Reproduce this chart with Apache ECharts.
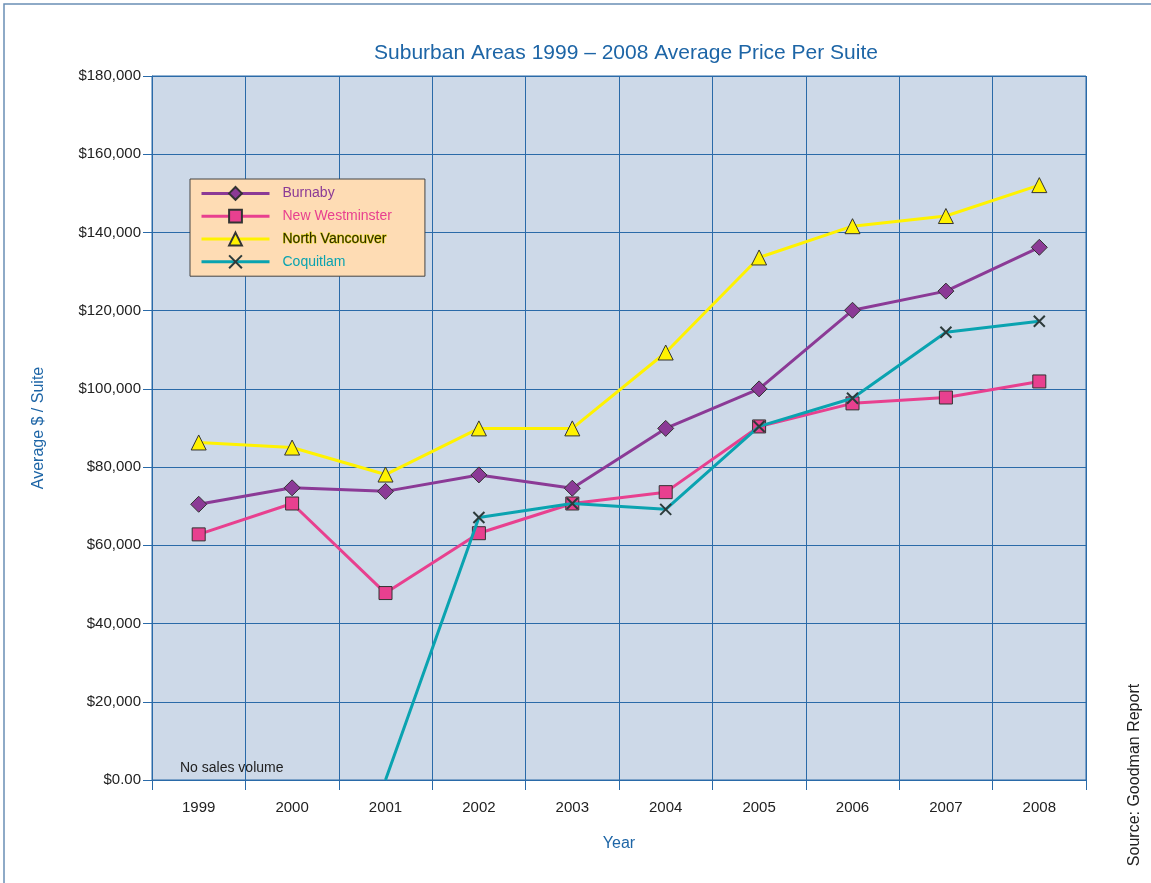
<!DOCTYPE html>
<html>
	<head>
		<meta charset="utf-8">
		<title>Suburban Areas Average Price Per Suite</title>
		<script type="text/javascript" src="https://cdn.jsdelivr.net/npm/echarts@6/dist/echarts.min.js"></script>
		<style>
			html, body { margin: 0; padding: 0; background: #fff; }
			#chart { width: 1151px; height: 883px; }
		</style>
	</head>
	<body>
		<div id="chart"></div>
		<script type="text/javascript">
			// 年份（x轴）
			var years = ['1999', '2000', '2001', '2002', '2003', '2004', '2005', '2006', '2007', '2008'];
			// 各区平均单价
			var burnaby = [70500, 74700, 73800, 78000, 74600, 89900, 100000, 120100, 125000, 136200];
			var newWestminster = [62800, 70700, 47800, 63100, 70700, 73600, 90400, 96300, 97800, 101900];
			var northVancouver = [86300, 85000, 78100, 89900, 89900, 109300, 133600, 141600, 144200, 152100];
			// 1999、2000 无数据，2001 无成交量（0）
			var coquitlam = [null, null, 0, 67100, 70700, 69200, 90400, 97600, 114500, 117300];

			var font = "'Liberation Sans', Arial, sans-serif";
			var blue = '#1d65a6';

			function moneyLabel(value) {
				if (value == 0) {
					return '$0.00';
				}
				return '$' + value.toLocaleString('en-US');
			}

			// 2001 年的 0 点不画标记
			var coqData = [];
			for (var i = 0; i < coquitlam.length; i++) {
				if (coquitlam[i] === 0) {
					coqData.push({ value: 0, symbol: 'none' });
				} else {
					coqData.push(coquitlam[i]);
				}
			}

			var myChart = echarts.init(document.getElementById('chart'));
			var option = {
				animation: false,
				textStyle: { fontFamily: font },
				title: {
					text: 'Suburban Areas 1999 \u2013 2008 Average Price Per Suite',
					left: 621,
					textAlign: 'center',
					top: 38,
					textStyle: {
						color: blue,
						fontSize: 21,
						fontWeight: 'normal',
						fontFamily: "'Liberation Sans Narrow', 'Liberation Sans', sans-serif"
					}
				},
				grid: {
					left: 152,
					right: 65,
					top: 76,
					bottom: 103,
					show: true,
					backgroundColor: '#cdd9e8',
					borderColor: '#2a6aa8',
					borderWidth: 1
				},
				legend: {
					orient: 'vertical',
					left: 190,
					top: 179,
					backgroundColor: '#fedcb4',
					borderColor: '#444',
					borderWidth: 1,
					padding: [7, 33, 7, 10],
					itemWidth: 68,
					itemHeight: 16,
					itemGap: 8,
					lineStyle: { width: 3 },
					textStyle: { fontSize: 14, padding: [0, 0, 0, 8] },
					data: [
						{ name: 'Burnaby', textStyle: { color: '#8b3a96' } },
						{ name: 'New Westminster', textStyle: { color: '#e8408f' } },
						{ name: 'North Vancouver', textStyle: { color: '#2b2b00', textBorderColor: '#d8d000', textBorderWidth: 0.8 } },
						{ name: 'Coquitlam', textStyle: { color: '#0aa3b0' } }
					]
				},
				xAxis: {
					type: 'category',
					data: years,
					boundaryGap: true,
					name: 'Year',
					nameLocation: 'middle',
					nameGap: 56,
					nameTextStyle: { color: blue, fontSize: 16 },
					axisLine: { lineStyle: { color: '#2a6aa8', width: 1 } },
					axisTick: { show: true, interval: 0, length: 10, lineStyle: { color: '#2a6aa8' } },
					axisLabel: { color: '#222', fontSize: 15, margin: 20, interval: 0 },
					splitLine: { show: true, interval: 0, lineStyle: { color: '#2a6aa8', width: 1 } }
				},
				yAxis: {
					type: 'value',
					min: 0,
					max: 180000,
					interval: 20000,
					name: 'Average $ / Suite',
					nameLocation: 'middle',
					nameGap: 105,
					nameTextStyle: { color: blue, fontSize: 16 },
					axisLine: { show: true, lineStyle: { color: '#2a6aa8' } },
					axisTick: { show: true, length: 9, lineStyle: { color: '#2a6aa8' } },
					axisLabel: { color: '#222', fontSize: 15, margin: 11, formatter: moneyLabel },
					splitLine: { show: true, lineStyle: { color: '#2a6aa8', width: 1 } }
				},
				series: [{
					name: 'North Vancouver',
					type: 'line',
					data: northVancouver,
					symbol: 'triangle',
					symbolSize: 15,
					lineStyle: { color: '#fff200', width: 3 },
					itemStyle: { color: '#fff200', borderColor: '#333', borderWidth: 1 },
					z: 2
				}, {
					name: 'Burnaby',
					type: 'line',
					data: burnaby,
					symbol: 'diamond',
					symbolSize: 16,
					lineStyle: { color: '#8b3a96', width: 3 },
					itemStyle: { color: '#8b3a96', borderColor: '#333', borderWidth: 1 },
					z: 3
				}, {
					name: 'Coquitlam',
					type: 'line',
					data: coqData,
					connectNulls: false,
					symbol: 'path://M0,0 L10,10 M10,0 L0,10',
					symbolSize: 11,
					lineStyle: { color: '#0aa3b0', width: 3 },
					itemStyle: { color: '#2d3b3b', borderColor: '#2d3b3b', borderWidth: 2 },
					z: 4
				}, {
					name: 'New Westminster',
					type: 'line',
					data: newWestminster,
					symbol: 'rect',
					symbolSize: 13,
					lineStyle: { color: '#e8408f', width: 3 },
					itemStyle: { color: '#e8408f', borderColor: '#333', borderWidth: 1 },
					z: 3
				}],
				graphic: [{
					type: 'rect',
					shape: { x: 4, y: 4, width: 1160, height: 900 },
					style: { fill: 'none', stroke: '#6a8fb5', lineWidth: 1.5 },
					silent: true
				}, {
					type: 'text',
					left: 180,
					top: 761,
					style: { text: 'No sales volume', fill: '#222', font: '14px ' + font }
				}, {
					type: 'text',
					x: 1135,
					y: 775,
					rotation: Math.PI / 2,
					style: {
						text: 'Source: Goodman Report',
						fill: '#222',
						font: '16px ' + font,
						align: 'center',
						verticalAlign: 'middle'
					}
				}]
			};

			myChart.setOption(option);
		</script>
	</body>
</html>
